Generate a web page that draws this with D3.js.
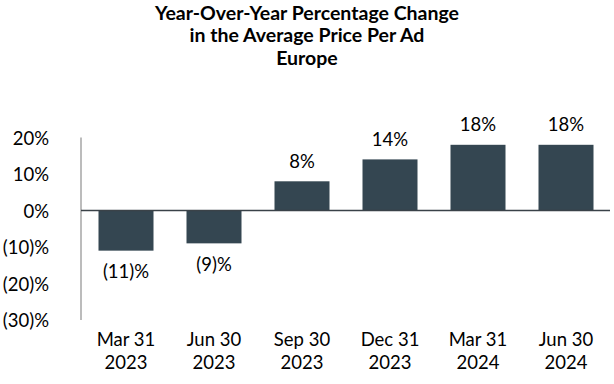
<!DOCTYPE html>
<html>
<head>
<meta charset="utf-8">
<script src="https://cdnjs.cloudflare.com/ajax/libs/d3/7.8.5/d3.min.js"></script>
<style>
  body { margin: 0; background: #fff; }
  text { font-family: Lato, "Open Sans", sans-serif; fill: #000; }
</style>
</head>
<body>
<svg id="chart" width="614" height="384"></svg>
<script>
const titleLines = ['Year-Over-Year Percentage Change', 'in the Average Price Per Ad', 'Europe']
const quarters = ['Mar 31', 'Jun 30', 'Sep 30', 'Dec 31', 'Mar 31', 'Jun 30']
const years = ['2023', '2023', '2023', '2023', '2024', '2024']
const changes = [-11, -9, 8, 14, 18, 18]
const yTicks = [20, 10, 0, -10, -20, -30]

const width = 614
const height = 384
const barColor = '#344651'

const fmt = v => v < 0 ? `(${Math.abs(v)})%` : `${v}%`

const svg = d3.select('#chart')

// title
svg.append('g').selectAll('text')
    .data(titleLines)
    .enter().append('text')
    .attr('x', 307)
    .attr('y', (d, i) => 13 + i * 22.5)
    .attr('dy', '0.35em')
    .attr('text-anchor', 'middle')
    .style('font-weight', 'bold')
    .style('font-size', '19.5px')
    .text(d => d)

const x = d3.scaleBand()
    .domain(d3.range(changes.length))
    .range([82, 610])
    .paddingInner(0.375)
    .paddingOuter(0.1875)

const y = d3.scaleLinear()
    .domain([-30, 20])
    .range([320, 137.5])

// y axis line + labels
svg.append('line')
    .attr('x1', 81).attr('x2', 81)
    .attr('y1', y(20)).attr('y2', y(-30))
    .attr('stroke', '#a6a6a6')
    .attr('stroke-width', 1.5)

svg.append('g').selectAll('text')
    .data(yTicks)
    .enter().append('text')
    .attr('x', 49)
    .attr('y', d => y(d) + 1)
    .attr('dy', '0.35em')
    .attr('text-anchor', 'end')
    .style('font-size', '18.5px')
    .text(fmt)

// bars
svg.append('g').selectAll('rect')
    .data(changes)
    .enter().append('rect')
    .attr('x', (d, i) => x(i))
    .attr('width', x.bandwidth())
    .attr('y', d => y(Math.max(0, d)))
    .attr('height', d => Math.abs(y(d) - y(0)))
    .attr('fill', barColor)

// zero line
svg.append('line')
    .attr('x1', 81).attr('x2', 610)
    .attr('y1', y(0)).attr('y2', y(0))
    .attr('stroke', '#3a4248')
    .attr('stroke-width', 1.5)

// value labels
svg.append('g').selectAll('text')
    .data(changes)
    .enter().append('text')
    .attr('x', (d, i) => x(i) + x.bandwidth() / 2)
    .attr('y', d => d < 0 ? y(d) + 21 : y(d) - 20)
    .attr('dy', '0.35em')
    .attr('text-anchor', 'middle')
    .style('font-size', '18.5px')
    .text(fmt)

// category labels
const cat = svg.append('g').selectAll('text')
    .data(quarters)
    .enter().append('text')
    .attr('text-anchor', 'middle')
    .style('font-size', '18.5px')

cat.append('tspan')
    .attr('x', (d, i) => x(i) + x.bandwidth() / 2)
    .attr('y', 340)
    .attr('dy', '0.35em')
    .text(d => d)

cat.append('tspan')
    .attr('x', (d, i) => x(i) + x.bandwidth() / 2)
    .attr('y', 363)
    .attr('dy', '0.35em')
    .text((d, i) => years[i])
</script>
</body>
</html>
